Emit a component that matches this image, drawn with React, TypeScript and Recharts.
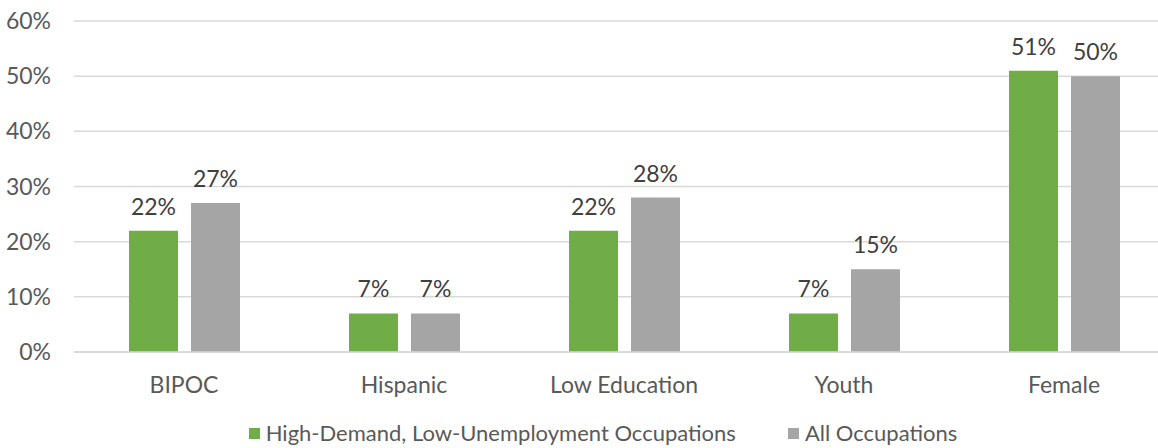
import { Bar, BarChart, CartesianGrid, LabelList, Legend, XAxis, YAxis } from "recharts";

const categories = ["BIPOC", "Hispanic", "Low Education", "Youth", "Female"];
const highDemand = [22, 7, 22, 7, 51];
const allOccupations = [27, 7, 28, 15, 50];
const yTicks = [0, 10, 20, 30, 40, 50, 60];
const seriesNames = ["High-Demand, Low-Unemployment Occupations", "All Occupations"];

const GREEN = "#70ad47";
const GRAY = "#a5a5a5";
const TEXT = "#595959";
const FONT = "Lato, 'Open Sans', sans-serif";
const seriesColors = [GREEN, GRAY];

const data = categories.map((name, i) => ({
  name,
  high: highDemand[i],
  all: allOccupations[i],
}));

const pct = (v: any) => `${v}%`;

const LegendContent = () => (
  <div
    style={{
      display: "flex",
      justifyContent: "center",
      alignItems: "center",
      height: 30,
      lineHeight: "30px",
      fontFamily: FONT,
      fontSize: 22,
      color: TEXT,
      paddingLeft: 32,
    }}
  >
    {seriesNames.map((name, i) => (
      <div
        key={`leg-${i}`}
        style={{ display: "flex", alignItems: "center", marginLeft: i ? 52 : 0 }}
      >
        <span
          style={{
            width: 11,
            height: 11,
            background: seriesColors[i],
            marginRight: 6,
            display: "inline-block",
          }}
        />
        <span>{name}</span>
      </div>
    ))}
  </div>
);

export default function App() {
  return (
    <div
      style={{
        position: "absolute",
        left: 0,
        top: 0,
        width: 1158,
        height: 448,
        overflow: "hidden",
        background: "#fff",
      }}
    >
      <BarChart
        width={1180}
        height={448}
        data={data}
        margin={{ top: 21, right: 6, bottom: 0, left: 0 }}
        barCategoryGap="25%"
        barGap={13}
      >
        <CartesianGrid vertical={false} stroke="#d9d9d9" strokeWidth={1.5} />
        <XAxis
          dataKey="name"
          axisLine={{ stroke: "#d9d9d9", strokeWidth: 1.5 }}
          tickLine={false}
          tickMargin={19}
          height={66}
          tick={{ fill: TEXT, fontSize: 23, fontFamily: FONT }}
        />
        <YAxis
          domain={[0, 60]}
          ticks={yTicks}
          width={74}
          axisLine={false}
          tickLine={false}
          tickMargin={17}
          tickFormatter={pct}
          tick={{ fill: TEXT, fontSize: 23, fontFamily: FONT }}
        />
        <Legend verticalAlign="bottom" height={30} content={<LegendContent />} />
        <Bar dataKey="high" name={seriesNames[0]} fill={GREEN} isAnimationActive={false}>
          <LabelList
            dataKey="high"
            position="top"
            offset={16}
            formatter={pct}
            style={{ fill: "#404040", fontSize: 23, fontFamily: FONT }}
          />
        </Bar>
        <Bar dataKey="all" name={seriesNames[1]} fill={GRAY} isAnimationActive={false}>
          <LabelList
            dataKey="all"
            position="top"
            offset={16}
            formatter={pct}
            style={{ fill: "#404040", fontSize: 23, fontFamily: FONT }}
          />
        </Bar>
      </BarChart>
    </div>
  );
}
